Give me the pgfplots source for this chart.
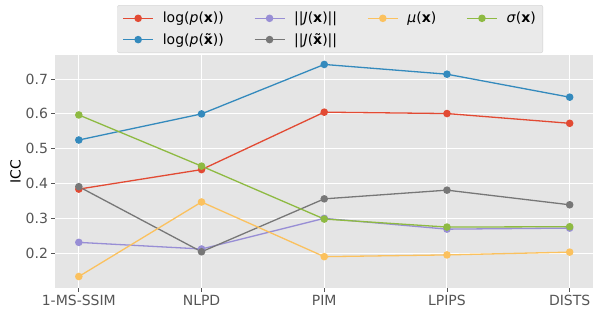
\documentclass[border=0pt]{standalone}
\usepackage{fontspec}
\setmainfont{DejaVu Sans}
\usepackage{pgfplots}
\pgfplotsset{compat=1.18}
\definecolor{cred}{HTML}{E24A33}
\definecolor{cblue}{HTML}{348ABD}
\definecolor{cpurple}{HTML}{988ED5}
\definecolor{cgray}{HTML}{777777}
\definecolor{cyellow}{HTML}{FBC15E}
\definecolor{cgreen}{HTML}{8EBA42}
\definecolor{bg}{HTML}{E5E5E5}
\definecolor{tk}{HTML}{555555}
\definecolor{legbg}{HTML}{EAEAEA}
\definecolor{legedge}{HTML}{D0D0D0}
\pgfplotsset{ser/.style={color=#1, line width=1.3pt, mark=*, mark size=3.1pt, mark options={solid, fill=#1}}}
\begin{document}
\begin{tikzpicture}
\begin{axis}[
  scale only axis, width=537.5pt, height=233.3pt,
  xmin=-0.19, xmax=4.19, ymin=0.1, ymax=0.77,
  xtick={0,1,2,3,4}, xticklabels={1-MS-SSIM,NLPD,PIM,LPIPS,DISTS},
  ytick={0.2,0.3,0.4,0.5,0.6,0.7},
  /pgf/number format/assume math mode=true,
  yticklabel style={/pgf/number format/fixed, /pgf/number format/precision=1, /pgf/number format/fixed zerofill},
  ticklabel style={font=\fontsize{14}{16}\selectfont, text=tk},
  tick align=outside, major tick length=4pt,
  tick style={color=tk, line width=0.8pt},
  xtick pos=bottom, ytick pos=left,
  axis background/.style={fill=bg},
  axis line style={draw=none},
  grid=major, grid style={white, line width=1pt},
  ylabel={ICC}, ylabel style={font=\fontsize{14}{16}\selectfont, xshift=0pt, yshift=-2pt},
  legend columns=4,
  legend style={at={(0.511,1)}, anchor=south, yshift=1.7pt, fill=legbg, draw=legedge, rounded corners=2pt,
    font=\fontsize{14}{16}\selectfont, row sep=5pt, inner xsep=5pt, inner ysep=5pt,
    /tikz/every odd column/.append style={column sep=7pt},
    /tikz/every even column/.append style={column sep=28pt}},
  legend cell align=left,
  legend image code/.code={\draw[mark repeat=2, mark phase=2, #1] plot coordinates {(0pt,0pt) (15pt,0pt) (30pt,0pt)};},
]
\addplot[ser=cred, forget plot] coordinates {(0,0.384) (1,0.440) (2,0.605) (3,0.601) (4,0.573)};
\addplot[ser=cblue, forget plot] coordinates {(0,0.525) (1,0.600) (2,0.742) (3,0.714) (4,0.648)};
\addplot[ser=cpurple, forget plot] coordinates {(0,0.231) (1,0.212) (2,0.300) (3,0.269) (4,0.272)};
\addplot[ser=cgray, forget plot] coordinates {(0,0.391) (1,0.204) (2,0.356) (3,0.381) (4,0.339)};
\addplot[ser=cyellow, forget plot] coordinates {(0,0.133) (1,0.347) (2,0.190) (3,0.195) (4,0.203)};
\addplot[ser=cgreen, forget plot] coordinates {(0,0.597) (1,0.450) (2,0.298) (3,0.275) (4,0.276)};
\addlegendimage{ser=cred}\addlegendentry{log(\textit{p}(\textbf{x}))}
\addlegendimage{ser=cpurple}\addlegendentry{||\textit{J}(\textbf{x})||}
\addlegendimage{ser=cyellow}\addlegendentry{\textit{μ}(\textbf{x})}
\addlegendimage{ser=cgreen}\addlegendentry{\textit{σ}(\textbf{x})}
\addlegendimage{ser=cblue}\addlegendentry{log(\textit{p}(\textbf{\~{x}}))}
\addlegendimage{ser=cgray}\addlegendentry{||\textit{J}(\textbf{\~{x}})||}
\coordinate (bl) at (rel axis cs:0,0);
\coordinate (tr) at (rel axis cs:1,1);
\end{axis}
\pgfresetboundingbox
\path[use as bounding box] ([xshift=-55.5pt,yshift=-23pt]bl) rectangle ([yshift=54.7pt]tr);
\end{tikzpicture}
\end{document}
